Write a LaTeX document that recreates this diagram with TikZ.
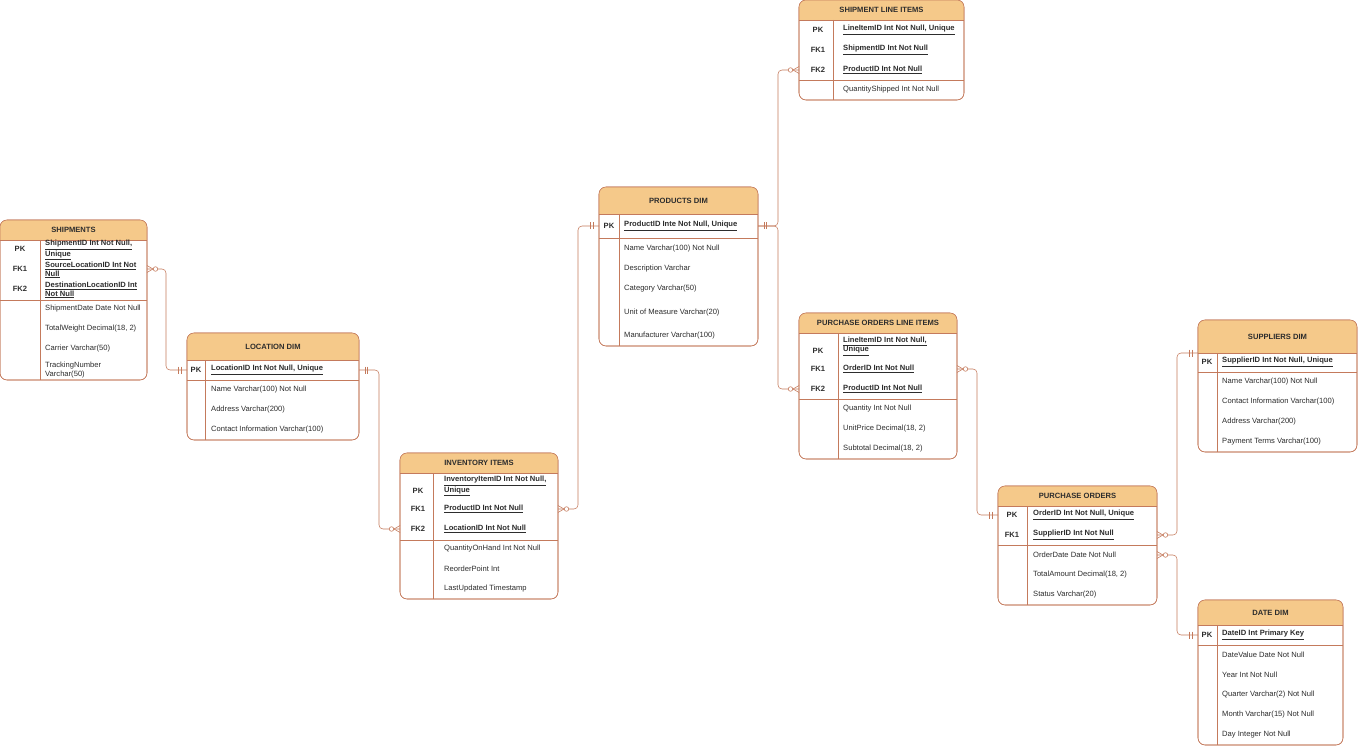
\documentclass[tikz,border=0pt]{standalone}
\usepackage{fontspec}
\setmainfont{Liberation Sans}
\definecolor{hdr}{RGB}{245,201,138}
\definecolor{bd}{RGB}{196,122,92}
\definecolor{tx}{RGB}{45,45,45}
\tikzset{ln/.style={draw=bd,line width=0.55pt},
 conn/.style={draw=bd,line width=0.55pt,rounded corners=4},
 ttl/.style={font=\fontsize{7.6}{9}\selectfont\bfseries,text=tx},
 key/.style={font=\fontsize{7.6}{9}\selectfont\bfseries,text=tx},
 fld/.style={font=\fontsize{7.6}{8.6}\selectfont,text=tx,anchor=west,inner sep=0pt,align=left}}
\newcommand\ertable[9]{% x1 x2 ytop yhead ykeys ybot xdiv title name
 \draw[ln,fill=white,rounded corners=7] (#1,#3) rectangle (#2,#6);
 \begin{scope}\clip[rounded corners=7] (#1,#3) rectangle (#2,#6);
 \fill[hdr] (#1,#3) rectangle (#2,#4);\end{scope}
 \draw[ln,rounded corners=7] (#1,#3) rectangle (#2,#6);
 \draw[ln] (#1,#4) -- (#2,#4) (#1,#5) -- (#2,#5) (#7,#4) -- (#7,#6);
 \node[ttl] (#9) at ({(#1+#2)/2},{(#3+#4)/2}) {#8};}
\newcommand\kk[3]{\node[key] at (#1,#2) {#3};}
\newcommand\ff[3]{\node[fld] at (#1,#2) {#3};}
\newcommand\fk[3]{\node[fld,font=\fontsize{7.6}{8.6}\selectfont\bfseries] at (#1,#2) {#3};}
\newcommand\ul[1]{\underline{#1}}
\newcommand\onemk[3]{\draw[ln] ({#1+6*#3},#2-3.5) -- ++(0,7); \draw[ln] ({#1+8.5*#3},#2-3.5) -- ++(0,7);}
\newcommand\manymk[3]{\draw[ln] (#1,#2-3.5) -- ({#1+6*#3},#2) -- (#1,#2+3.5); \draw[ln,fill=white] ({#1+8.5*#3},#2) circle (2.3);}
\begin{document}
\begin{tikzpicture}[x=1pt,y=-1pt]
\useasboundingbox (0,0) rectangle (1358,746);
% SHIPMENTS
\ertable{0}{147}{220}{240}{300}{380}{40}{SHIPMENTS}{ship}
\kk{20}{249}{PK}\kk{20}{269}{FK1}\kk{20}{289}{FK2}
\fk{45}{250}{\ul{ShipmentID Int Not Null,}\\\ul{Unique}}
\fk{45}{270}{\ul{SourceLocationID Int Not}\\\ul{Null}}
\fk{45}{290}{\ul{DestinationLocationID Int}\\\ul{Not Null}}
\ff{45}{309}{ShipmentDate Date Not Null}\ff{45}{329}{TotalWeight Decimal(18, 2)}
\ff{45}{349}{Carrier Varchar(50)}\ff{45}{370}{TrackingNumber\\Varchar(50)}
% LOCATION
\ertable{187}{359}{333}{360}{380}{440}{205}{LOCATION DIM}{loc}
\kk{196}{370}{PK}\fk{211}{370}{\ul{LocationID Int Not Null, Unique}}
\ff{211}{390}{Name Varchar(100) Not Null}\ff{211}{410}{Address Varchar(200)}\ff{211}{430}{Contact Information Varchar(100)}
% INVENTORY
\ertable{400}{558}{453}{473}{540}{599}{433}{INVENTORY ITEMS}{inv}
\kk{418}{491}{PK}\kk{418}{509}{FK1}\kk{418}{529}{FK2}
\fk{444}{486}{\ul{InventoryItemID Int Not Null,}\\\ul{Unique}}
\fk{444}{509}{\ul{ProductID Int Not Null}}
\fk{444}{529}{\ul{LocationID Int Not Null}}
\ff{444}{549}{QuantityOnHand Int Not Null}\ff{444}{569}{ReorderPoint Int}\ff{444}{589}{LastUpdated Timestamp}
% PRODUCTS
\ertable{599}{758}{187}{214}{238}{346}{619}{PRODUCTS DIM}{prod}
\kk{609}{226}{PK}\fk{624}{226}{\ul{ProductID Inte Not Null, Unique}}
\ff{624}{249}{Name Varchar(100) Not Null}\ff{624}{269}{Description Varchar}\ff{624}{289}{Category Varchar(50)}
\ff{624}{313}{Unit of Measure Varchar(20)}\ff{624}{336}{Manufacturer Varchar(100)}
% SHIPMENT LINE ITEMS
\ertable{799}{964}{0}{20}{80}{100}{833}{SHIPMENT LINE ITEMS}{sli}
\kk{818}{30}{PK}\kk{818}{50}{FK1}\kk{818}{70}{FK2}
\fk{843}{30}{\ul{LineItemID Int Not Null, Unique}}
\fk{843}{50}{\ul{ShipmentID Int Not Null}}
\fk{843}{70}{\ul{ProductID Int Not Null}}
\ff{843}{90}{QuantityShipped Int Not Null}
% PO LINE ITEMS
\ertable{799}{957}{313}{333}{399}{459}{838}{PURCHASE ORDERS LINE ITEMS}{poli}
\kk{818}{351}{PK}\kk{818}{369}{FK1}\kk{818}{389}{FK2}
\fk{843}{346}{\ul{LineItemID Int Not Null,}\\\ul{Unique}}
\fk{843}{369}{\ul{OrderID Int Not Null}}
\fk{843}{389}{\ul{ProductID Int Not Null}}
\ff{843}{409}{Quantity Int Not Null}\ff{843}{429}{UnitPrice Decimal(18, 2)}\ff{843}{449}{Subtotal Decimal(18, 2)}
% PURCHASE ORDERS
\ertable{998}{1157}{486}{506}{545}{605}{1027}{PURCHASE ORDERS}{po}
\kk{1012}{515}{PK}\kk{1012}{535}{FK1}
\fk{1033}{515}{\ul{OrderID Int Not Null, Unique}}
\fk{1033}{535}{\ul{SupplierID Int Not Null}}
\ff{1033}{555}{OrderDate Date Not Null}\ff{1033}{575}{TotalAmount Decimal(18, 2)}\ff{1033}{595}{Status Varchar(20)}
% SUPPLIERS
\ertable{1198}{1357}{320}{353}{372}{452}{1217}{SUPPLIERS DIM}{sup}
\kk{1207}{362}{PK}\fk{1222}{362}{\ul{SupplierID Int Not Null, Unique}}
\ff{1222}{382}{Name Varchar(100) Not Null}\ff{1222}{402}{Contact Information Varchar(100)}
\ff{1222}{422}{Address Varchar(200)}\ff{1222}{442}{Payment Terms Varchar(100)}
% DATE
\ertable{1198}{1343}{600}{625}{645}{745}{1217}{DATE DIM}{date}
\kk{1207}{635}{PK}\fk{1222}{635}{\ul{DateID Int Primary Key}}
\ff{1222}{655}{DateValue Date Not Null}\ff{1222}{675}{Year Int Not Null}\ff{1222}{695}{Quarter Varchar(2) Not Null}
\ff{1222}{715}{Month Varchar(15) Not Null}\ff{1222}{735}{Day Integer Not Null}
% connectors
\coordinate (a1) at (147,269); \coordinate (a2) at (187,370);
\coordinate (b1) at (359,370); \coordinate (b2) at (400,529);
\coordinate (c1) at (558,509); \coordinate (c2) at (599,226);
\coordinate (d1) at (758,226); \coordinate (d2) at (799,70); \coordinate (d3) at (799,389);
\coordinate (e1) at (957,369); \coordinate (e2) at (998,515);
\coordinate (f1) at (1157,535); \coordinate (f2) at (1198,353);
\coordinate (g1) at (1157,555); \coordinate (g2) at (1198,635);
\draw[conn] (a1) -- (166,269) -- (166,370) -- (a2);
\draw[conn] (b1) -- (379,370) -- (379,529) -- (b2);
\draw[conn] (c1) -- (578,509) -- (578,226) -- (c2);
\draw[conn] (d1) -- (778,226) -- (778,70) -- (d2);
\draw[conn] (d1) -- (778,226) -- (778,389) -- (d3);
\draw[conn] (e1) -- (977,369) -- (977,515) -- (e2);
\draw[conn] (f1) -- (1177,535) -- (1177,353) -- (f2);
\draw[conn] (g1) -- (1177,555) -- (1177,635) -- (g2);
\manymk{147}{269}{1}\onemk{187}{370}{-1}
\onemk{359}{370}{1}\manymk{400}{529}{-1}
\manymk{558}{509}{1}\onemk{599}{226}{-1}
\onemk{758}{226}{1}\manymk{799}{70}{-1}\manymk{799}{389}{-1}
\manymk{957}{369}{1}\onemk{998}{515}{-1}
\manymk{1157}{535}{1}\onemk{1198}{353}{-1}
\manymk{1157}{555}{1}\onemk{1198}{635}{-1}
\end{tikzpicture}
\end{document}
